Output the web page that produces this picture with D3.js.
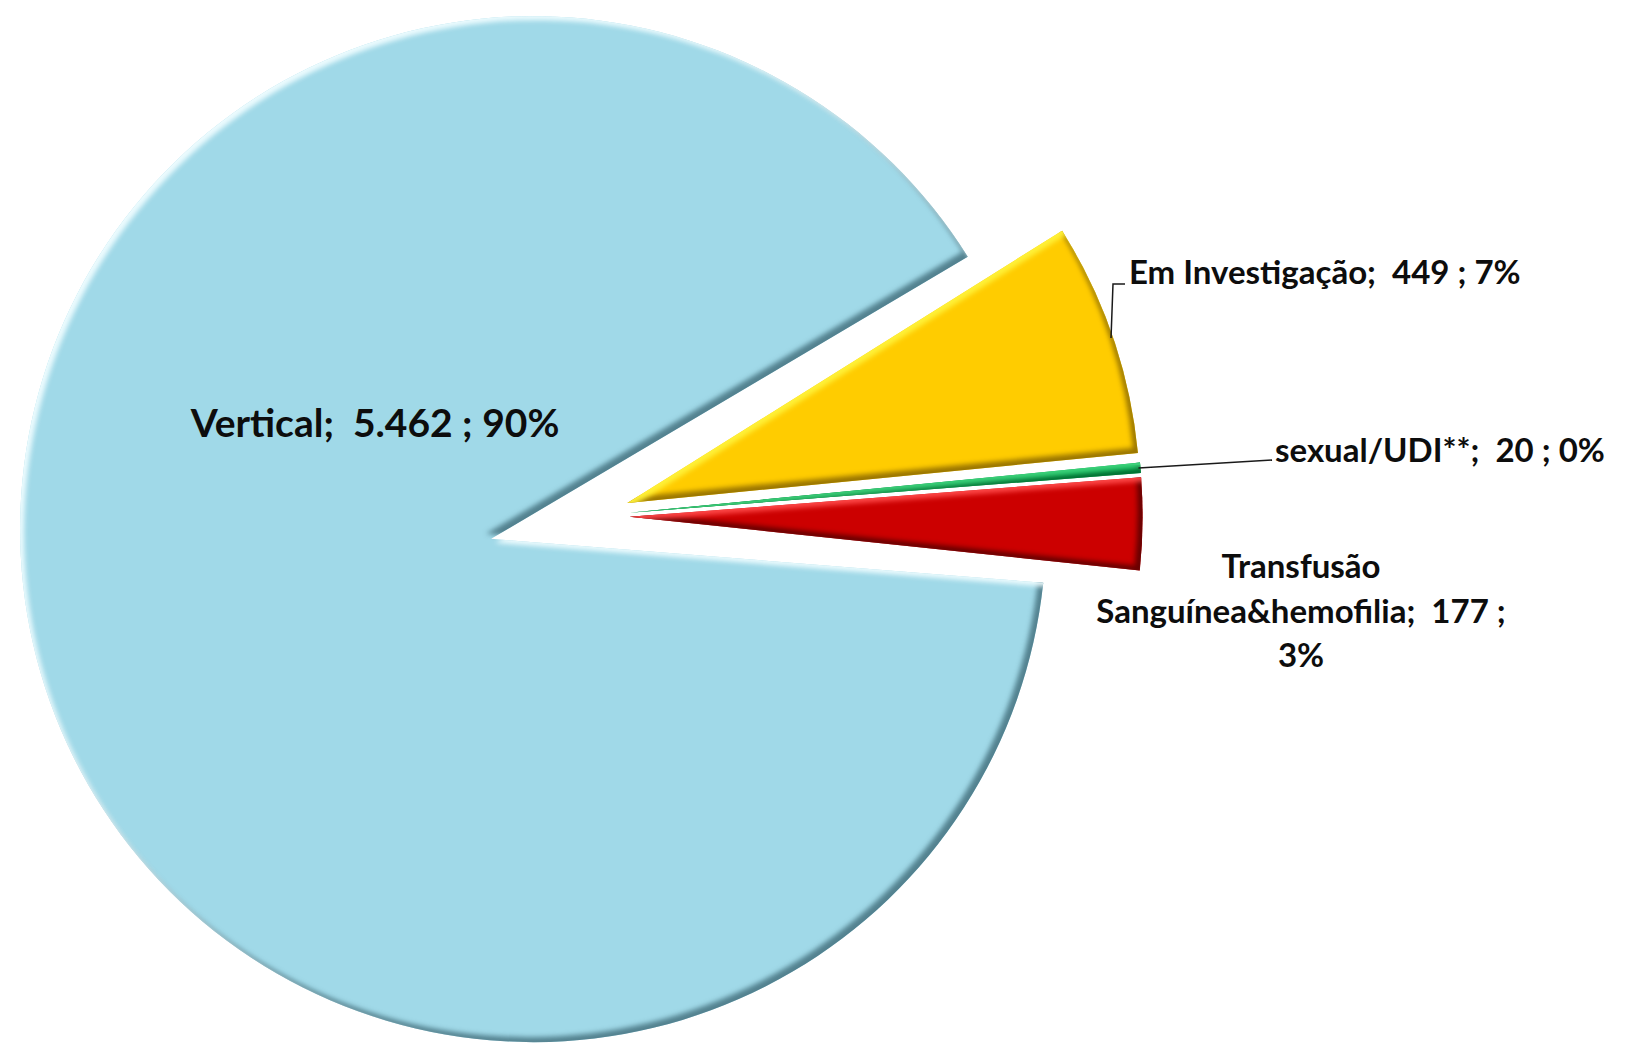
<!DOCTYPE html>
<html lang="pt">
<head>
<meta charset="UTF-8">
<title>Categoria de exposição</title>
<script src="https://d3js.org/d3.v7.min.js"></script>
<style>
  html, body { margin: 0; padding: 0; background: #fff; }
  svg text { font-family: Lato, "Open Sans", sans-serif; font-weight: bold; fill: #0d0d0d; white-space: pre; }
</style>
</head>
<body>
<div id="chart"></div>
<script>
// dados
const categories = ["Vertical", "Em Investigação", "sexual/UDI**", "Transfusão Sanguínea&hemofilia"];
const values = [5462, 449, 20, 177];
const percentLabels = ["90%", "7%", "0%", "3%"];
const colors = ["#a0d9e8", "#ffcc00", "#00b050", "#cc0000"];
const hiColors = ["#f0fdff", "#fff23a", "#3fd27c", "#ff4a4a"];
const loColors = ["#4a7885", "#8f6c00", "#00682f", "#5c0000"];

// layout
const W = 1629, H = 1045;
const pieCenter = [588.6, 516.3];
const R = 513;
const startDeg = 96;
const explodeArc = [57, 41, 41, 41];   // deslocamento do arco
const explodeApex = [100, 41, 41, 41]; // deslocamento do vértice

const labelPos = [
  { x: 375, y: 437, anchor: "middle", size: 39 },
  { x: 1129, y: 284, anchor: "start", size: 33 },
  { x: 1275, y: 462, anchor: "start", size: 33 },
  { x: 1301, y: 578, anchor: "middle", size: 33, wrap: 415, lh: 44.5 }
];
// pontos intermediários das linhas de chamada
const leaderVia = [null, [[1113, 284], [1125, 284]], [[1272, 460]], null];

const fmt = d3.formatLocale({ decimal: ",", thousands: ".", grouping: [3], currency: ["R$", ""] }).format(",d");

const svg = d3.select("#chart").append("svg")
  .attr("width", W)
  .attr("height", H);

const defs = svg.append("defs");
colors.forEach((c, i) => {
  const f = defs.append("filter")
    .attr("id", "bevel" + i)
    .attr("x", "-3%").attr("y", "-3%").attr("width", "106%").attr("height", "106%")
    .attr("color-interpolation-filters", "sRGB");
  f.append("feGaussianBlur").attr("in", "SourceAlpha").attr("stdDeviation", 2.5).attr("result", "blur");
  f.append("feOffset").attr("in", "blur").attr("dx", -5).attr("dy", -5).attr("result", "ul");
  f.append("feComposite").attr("in", "SourceAlpha").attr("in2", "ul").attr("operator", "out").attr("result", "loMask");
  f.append("feFlood").attr("flood-color", loColors[i]).attr("flood-opacity", 0.9);
  f.append("feComposite").attr("in2", "loMask").attr("operator", "in").attr("result", "lo");
  f.append("feOffset").attr("in", "blur").attr("dx", 4).attr("dy", 4).attr("result", "dr");
  f.append("feComposite").attr("in", "SourceAlpha").attr("in2", "dr").attr("operator", "out").attr("result", "hiMask");
  f.append("feFlood").attr("flood-color", hiColors[i]).attr("flood-opacity", 0.95);
  f.append("feComposite").attr("in2", "hiMask").attr("operator", "in").attr("result", "hi");
  const m = f.append("feMerge");
  m.append("feMergeNode").attr("in", "SourceGraphic");
  m.append("feMergeNode").attr("in", "lo");
  m.append("feMergeNode").attr("in", "hi");
});

const pie = d3.pie().sort(null)
  .startAngle(startDeg * Math.PI / 180)
  .endAngle(startDeg * Math.PI / 180 + 2 * Math.PI);
const arcs = pie(values);

const dir = a => [Math.sin(a), -Math.cos(a)];

function slicePath(d) {
  const mid = (d.startAngle + d.endAngle) / 2;
  const m = dir(mid);
  const c = [pieCenter[0] + explodeArc[d.index] * m[0], pieCenter[1] + explodeArc[d.index] * m[1]];
  const a = [pieCenter[0] + explodeApex[d.index] * m[0], pieCenter[1] + explodeApex[d.index] * m[1]];
  const s = dir(d.startAngle);
  const p = d3.path();
  p.moveTo(a[0], a[1]);
  p.lineTo(c[0] + R * s[0], c[1] + R * s[1]);
  p.arc(c[0], c[1], R, d.startAngle - Math.PI / 2, d.endAngle - Math.PI / 2);
  p.closePath();
  return p.toString();
}

svg.append("g").selectAll("path")
  .data(arcs)
  .enter()
  .append("path")
  .attr("d", slicePath)
  .attr("fill", (d, i) => colors[i])
  .attr("filter", (d, i) => `url(#bevel${i})`);

// linhas de chamada
arcs.forEach((d, i) => {
  if (!leaderVia[i]) return;
  const mid = (d.startAngle + d.endAngle) / 2;
  const m = dir(mid);
  const c = [pieCenter[0] + explodeArc[i] * m[0], pieCenter[1] + explodeArc[i] * m[1]];
  const pts = [[c[0] + (R - 2) * m[0], c[1] + (R - 2) * m[1]]].concat(leaderVia[i]);
  svg.append("path")
    .attr("d", d3.line()(pts))
    .attr("fill", "none")
    .attr("stroke", "#1a1a1a")
    .attr("stroke-width", 1.5);
});

// rótulos
arcs.forEach((d, i) => {
  const lp = labelPos[i];
  const full = `${categories[i]};  ${fmt(values[i])} ; ${percentLabels[i]}`;
  const t = svg.append("text")
    .attr("x", lp.x)
    .attr("y", lp.y)
    .attr("text-anchor", lp.anchor)
    .style("font-size", lp.size + "px");
  if (!lp.wrap) {
    t.text(full);
    return;
  }
  // quebra de linha simples
  const words = full.split(" ");
  const lines = [];
  let cur = "";
  const probe = svg.append("text").style("font-size", lp.size + "px");
  words.forEach(w => {
    const test = cur === "" ? w : cur + " " + w;
    probe.text(test);
    if (probe.node().getComputedTextLength() > lp.wrap && cur !== "") {
      lines.push(cur);
      cur = w;
    } else {
      cur = test;
    }
  });
  lines.push(cur);
  probe.remove();
  lines.forEach((ln, k) => {
    t.append("tspan").attr("x", lp.x).attr("y", lp.y + k * lp.lh).text(ln.trim());
  });
});
</script>
</body>
</html>
